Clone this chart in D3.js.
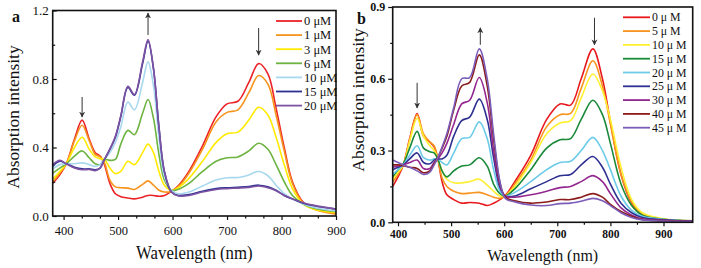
<!DOCTYPE html>
<html><head><meta charset="utf-8">
<script src="https://cdn.jsdelivr.net/npm/d3@7"></script>
<style>body{margin:0;background:#fff}svg{display:block}svg text{font-family:"Liberation Serif","Times New Roman",serif !important}</style>
</head><body>
<svg id="c" width="701" height="268"></svg>
<script>
// ---------- Panel a data ----------
const waveA = [380,393,405,420,434,447,458,467,475,485,495,505,518,530,545,555,565,575,585,598,610,630,655,680,700,720,740,758,775,790,805,820,840,860,900];
const labelsA = ["0 μM","1 μM","3 μM","6 μM","10 μM","15 μM","20 μM"];
const colorsA = ["#ec2227","#f7941d","#ffea00","#6cb33f","#a8d8ee","#2e3192","#7d52a3"];
const a0  = [.19,.24,.305,.45,.56,.45,.37,.35,.30,.19,.13,.113,.105,.10,.11,.12,.12,.115,.12,.145,.175,.26,.41,.58,.655,.67,.78,.89,.83,.63,.40,.20,.08,.045,.015];
const a1  = [.20,.25,.305,.44,.53,.44,.36,.345,.31,.21,.17,.165,.163,.155,.185,.205,.18,.15,.14,.145,.17,.25,.39,.55,.605,.62,.72,.82,.77,.59,.38,.19,.075,.04,.01];
const a3  = [.215,.26,.305,.40,.46,.39,.345,.335,.33,.28,.248,.26,.32,.30,.37,.42,.37,.26,.18,.15,.165,.22,.32,.43,.48,.49,.56,.635,.59,.46,.30,.16,.07,.04,.02];
const a6  = [.25,.28,.305,.35,.38,.34,.305,.30,.33,.325,.33,.42,.50,.475,.60,.68,.57,.36,.21,.15,.155,.19,.26,.32,.34,.345,.38,.425,.39,.30,.20,.12,.07,.045,.025];
const a10 = [.275,.30,.305,.305,.31,.30,.29,.30,.33,.37,.43,.52,.665,.62,.78,.90,.76,.46,.23,.15,.13,.14,.175,.21,.223,.225,.24,.26,.235,.18,.13,.10,.07,.05,.03];
const a15 = [.29,.32,.305,.285,.275,.275,.27,.28,.33,.39,.46,.58,.75,.705,.89,1.02,.86,.52,.26,.14,.12,.125,.145,.16,.165,.168,.172,.18,.17,.15,.12,.10,.075,.06,.04];
const a20 = [.30,.325,.305,.28,.27,.272,.265,.28,.33,.39,.465,.585,.757,.71,.90,1.03,.86,.52,.26,.14,.118,.12,.14,.155,.16,.163,.167,.175,.165,.148,.12,.10,.078,.062,.04];
const seriesA = [a0,a1,a3,a6,a10,a15,a20];
const xTicksA = [400,500,600,700,800,900];
const yTicksA = [0.0,0.4,0.8,1.2];
// arrows: [wavelength, from, to]
const arrowsA = [[434,0.695,0.578],[555,1.057,1.185],[758,1.098,0.94]];

// ---------- Panel b data ----------
const waveB = [390,400,410,422,436,448,460,468,475,483,492,505,520,535,553,568,580,592,602,620,650,680,705,725,745,767,785,800,820,840,860,900,955];
const labelsB = ["0 μ M","5 μ M","10 μ M","15 μ M","20 μ M","25 μ M","30 μ M","40 μ M","45 μ M"];
const colorsB = ["#e8191e","#f7931e","#fff033","#1a8a3a","#6ccbe7","#2e3192","#93278f","#8b1c1c","#7b5cb8"];
const b0  = [.15,.19,.24,.35,.455,.36,.335,.315,.265,.17,.115,.095,.08,.083,.08,.07,.08,.095,.112,.17,.28,.43,.495,.49,.60,.725,.60,.42,.20,.08,.03,.012,.005];
const b5  = [.17,.20,.24,.345,.45,.37,.335,.32,.265,.185,.15,.13,.12,.122,.125,.115,.105,.10,.11,.16,.26,.40,.45,.455,.56,.675,.57,.41,.20,.085,.035,.013,.006];
const b10 = [.18,.21,.24,.34,.435,.36,.32,.30,.265,.215,.18,.165,.165,.17,.18,.155,.13,.11,.11,.15,.25,.37,.415,.425,.52,.62,.55,.43,.23,.095,.04,.015,.006];
const b15 = [.19,.22,.245,.31,.38,.31,.295,.29,.265,.215,.19,.215,.235,.24,.27,.235,.16,.12,.11,.14,.22,.31,.345,.35,.43,.51,.45,.33,.16,.07,.03,.013,.006];
const b20 = [.20,.22,.24,.28,.32,.27,.26,.265,.265,.25,.24,.29,.35,.355,.42,.35,.22,.13,.11,.125,.17,.22,.25,.255,.30,.355,.30,.22,.11,.05,.025,.012,.006];
const b25 = [.22,.23,.24,.265,.29,.25,.245,.26,.265,.265,.28,.36,.425,.44,.515,.43,.27,.145,.11,.11,.14,.17,.195,.20,.24,.275,.23,.16,.08,.04,.02,.01,.005];
const b30 = [.23,.235,.24,.25,.26,.225,.225,.25,.265,.29,.33,.41,.495,.51,.605,.50,.30,.155,.11,.105,.115,.13,.145,.15,.17,.195,.17,.12,.06,.03,.015,.008,.004];
const b40 = [.24,.24,.237,.23,.225,.207,.215,.245,.27,.31,.36,.47,.57,.585,.70,.57,.35,.165,.105,.09,.08,.085,.095,.095,.105,.12,.105,.075,.045,.025,.012,.006,.003];
const b45 = [.26,.25,.24,.23,.215,.20,.21,.24,.27,.315,.37,.48,.60,.605,.725,.60,.37,.17,.10,.085,.072,.07,.078,.08,.088,.10,.09,.07,.04,.02,.01,.005,.003];
const seriesB = [b0,b5,b10,b15,b20,b25,b30,b40,b45];
const xTicksB = [400,500,600,700,800,900];
const yTicksB = [0.0,0.3,0.6,0.9];
const arrowsB = [[436,0.583,0.478],[555,0.742,0.813],[770,0.855,0.742]];

const FONT = '"Liberation Serif","Times New Roman",serif';
const svg = d3.select("#c");
const defs = svg.append("defs");
defs.append("marker").attr("id","ah").attr("viewBox","0 0 10 10").attr("refX",9).attr("refY",5)
  .attr("markerWidth",6).attr("markerHeight",7).attr("orient","auto-start-reverse").attr("markerUnits","userSpaceOnUse")
  .append("path").attr("d","M0,0L10,5L0,10L3,5Z").attr("fill","#333");

function panel(cfg){
  const g = svg.append("g");
  const x = d3.scaleLinear().domain(cfg.xDom).range([cfg.l, cfg.r]);
  const y = d3.scaleLinear().domain(cfg.yDom).range([cfg.b, cfg.t]);
  const line = d3.line().curve(d3.curveCatmullRom.alpha(0.5)).x(d=>x(d[0])).y(d=>y(d[1]));
  const clip = "clip"+cfg.id;
  defs.append("clipPath").attr("id",clip).append("rect").attr("x",cfg.l).attr("y",cfg.t).attr("width",cfg.r-cfg.l).attr("height",cfg.b-cfg.t);
  const lines = g.append("g").attr("clip-path",`url(#${clip})`);
  cfg.series.forEach((s,i)=>{
    lines.append("path").datum(cfg.wave.map((w,j)=>[w,s[j]]))
      .attr("d",line).attr("fill","none").attr("stroke",cfg.colors[i]).attr("stroke-width",1.6);
  });
  const xMinor = g.append("g").attr("transform",`translate(0,${cfg.b})`)
    .call(d3.axisBottom(x).tickValues(cfg.xMinor).tickSize(cfg.xMinorLen).tickFormat(""));
  xMinor.select(".domain").remove();
  const yMinor = g.append("g").attr("transform",`translate(${cfg.l},0)`)
    .call(d3.axisLeft(y).tickValues(cfg.yMinor).tickSize(cfg.yMinorLen).tickFormat(""));
  yMinor.select(".domain").remove();
  const xa = g.append("g").attr("transform",`translate(0,${cfg.b})`)
    .call(d3.axisBottom(x).tickValues(cfg.xTicks).tickSize(cfg.xTickLen).tickPadding(cfg.xPad).tickFormat(d3.format("d")));
  xa.select(".domain").remove();
  xa.attr("font-family",FONT);
  xa.selectAll("text").attr("font-family",FONT).attr("font-size",cfg.tickFont).attr("font-weight",cfg.tickWeight).attr("fill","#111");
  const ya = g.append("g").attr("transform",`translate(${cfg.l},0)`)
    .call(d3.axisLeft(y).tickValues(cfg.yTicks).tickSize(cfg.yTickLen).tickPadding(cfg.yPad).tickFormat(d3.format(".1f")));
  ya.select(".domain").remove();
  ya.attr("font-family",FONT);
  ya.selectAll("text").attr("font-family",FONT).attr("font-size",cfg.yTickFont).attr("font-weight",cfg.tickWeight).attr("fill","#111");
  g.selectAll(".tick line").attr("stroke","#111").attr("stroke-width",1.2);
  g.append("rect").attr("x",cfg.l).attr("y",cfg.t).attr("width",cfg.r-cfg.l).attr("height",cfg.b-cfg.t)
    .attr("fill","none").attr("stroke","#111").attr("stroke-width",1.6);
  cfg.arrows.forEach(a=>{
    g.append("line").attr("x1",x(a[0])).attr("x2",x(a[0])).attr("y1",y(a[1])).attr("y2",y(a[2]))
      .attr("stroke","#333").attr("stroke-width",1).attr("marker-end","url(#ah)");
  });
  cfg.labels.forEach((lab,i)=>{
    const yy = cfg.legY + i*cfg.legDy;
    g.append("line").attr("x1",cfg.legX1).attr("x2",cfg.legX2).attr("y1",yy).attr("y2",yy)
      .attr("stroke",cfg.colors[i]).attr("stroke-width",1.8);
    g.append("text").attr("x",cfg.legX2+2).attr("y",yy).attr("dy","0.35em").attr("font-size",cfg.legFont)
      .attr("font-family",FONT).attr("fill","#111").text(lab);
  });
  g.append("text").attr("transform",`translate(${(cfg.l+cfg.r)/2+cfg.xtDx},${cfg.xtY}) scale(1,${cfg.xtStretch})`)
    .attr("text-anchor","middle").attr("font-family",FONT)
    .attr("font-size",cfg.titleFont).attr("fill","#111").text("Wavelength (nm)");
  g.append("text").attr("transform",`translate(${cfg.ytX},${cfg.ytY}) rotate(-90)`).attr("text-anchor","middle")
    .attr("font-family",FONT).attr("font-size",cfg.yTitleFont).attr("fill","#111").text("Absorption intensity");
  g.append("text").attr("x",cfg.pX).attr("y",cfg.pY).attr("font-family",FONT).attr("font-size",16)
    .attr("font-weight","bold").attr("fill","#111").text(cfg.panel);
}

panel({id:"a",panel:"a",pX:12,pY:22,wave:waveA,series:seriesA,colors:colorsA,labels:labelsA,
  xDom:[380,900],yDom:[0,1.2],l:52.7,r:336,t:10.5,b:216,
  xTicks:xTicksA,yTicks:yTicksA,
  xMinor:[433.33,466.67,533.33,566.67,633.33,666.67,733.33,766.67,833.33,866.67],
  yMinor:[0.2,0.6,1.0],
  xTickLen:4,xMinorLen:2.5,yTickLen:-4,yMinorLen:-2.5,xPad:6,yPad:4,
  tickFont:12.5,yTickFont:13,tickWeight:"normal",
  arrows:arrowsA,legX1:276,legX2:302,legY:21,legDy:14.1,legFont:12.5,
  xtDx:0,xtY:259,xtStretch:1.12,titleFont:16.8,ytX:19,ytY:117,yTitleFont:17.5});

panel({id:"b",panel:"b",pX:357,pY:24,wave:waveB,series:seriesB,colors:colorsB,labels:labelsB,
  xDom:[390,955],yDom:[0,0.9],l:392.7,r:692.7,t:7,b:222.3,
  xTicks:xTicksB,yTicks:yTicksB,
  xMinor:[450,550,650,750,850],
  yMinor:[0.15,0.45,0.75],
  xTickLen:4,xMinorLen:2.5,yTickLen:4.5,yMinorLen:2.5,xPad:4,yPad:3,
  tickFont:11.5,yTickFont:12,tickWeight:"bold",
  arrows:arrowsB,legX1:623,legX2:650,legY:17.3,legDy:13.8,legFont:11.8,
  xtDx:0,xtY:260.5,xtStretch:1.1,titleFont:16,ytX:364,ytY:100,yTitleFont:17.5});
</script>
</body></html>
